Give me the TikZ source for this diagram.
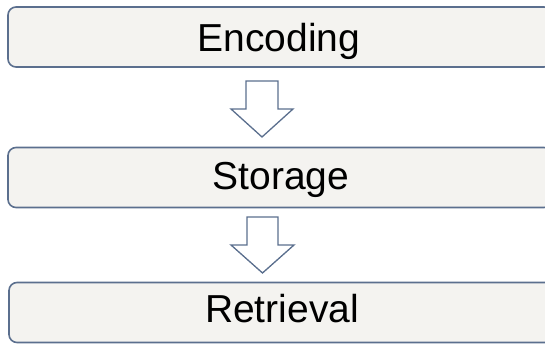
\documentclass[tikz,border=0pt]{standalone}
\usepackage{fontspec}
\setmainfont{Liberation Sans}
\definecolor{edge}{HTML}{5B6F8E}
\definecolor{boxfill}{HTML}{F4F3F0}
\tikzset{
  stagebox/.style={draw=edge, fill=boxfill, line width=1.6pt, rounded corners=8pt,
    minimum width=544pt, minimum height=60pt, inner sep=0pt},
  stagetext/.style={anchor=base, font=\fontsize{39}{42}\selectfont},
  blockarrow/.style={draw=edge, fill=white, line width=1.3pt, line join=miter}
}
\begin{document}
\begin{tikzpicture}[x=1pt,y=-1pt]
\useasboundingbox (0,0) rectangle (545,344);
\begin{scope}
\clip (0,0) rectangle (545,344);
\node[stagebox] (enc) at (280,37) {};
\node[stagebox] (sto) at (280,177.5) {};
\node[stagebox] (ret) at (281,312.5) {};
\end{scope}
\node[stagetext] (encT) at (279,52) {Encoding};
\node[stagetext] (stoT) at (281,190) {Storage};
\node[stagetext] (retT) at (282,322) {Retrieval};
\draw[blockarrow] (246,81) -- (278,81) -- (278,109) -- (293,109) -- (262,137) -- (231,109) -- (246,109) -- cycle;
\draw[blockarrow] (247,217) -- (278,217) -- (278,245) -- (294,245) -- (262.5,273) -- (231,245) -- (247,245) -- cycle;
\end{tikzpicture}
\end{document}
